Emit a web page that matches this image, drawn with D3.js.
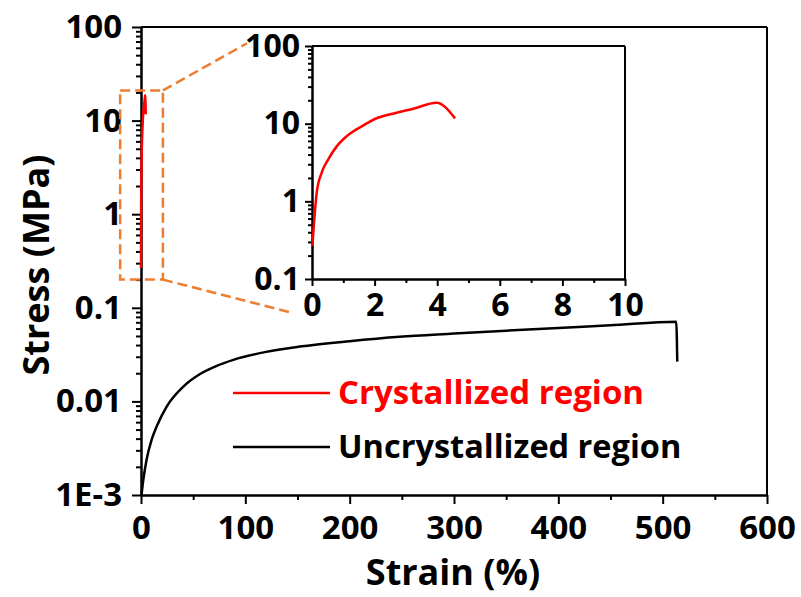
<!DOCTYPE html>
<meta charset="utf-8">
<style>
body { margin: 0; background: #fff; }
text { font-family: "Open Sans", Lato, sans-serif; font-weight: bold; }
.axis path, .axis line { stroke: #000; stroke-width: 2; }
.axis text { fill: #000; }
</style>
<svg width="801" height="597"></svg>
<script src="https://cdn.jsdelivr.net/npm/d3@7/dist/d3.min.js"></script>
<script>

// Uncrystallized region (main plot)
var strainU = [0.5, 2.2, 5.4, 10.2, 15, 24.6, 40.6, 56.6, 72.6, 88.5, 120, 152, 200, 248, 300, 350, 400, 450, 513, 514];
var stressU = [0.001, 0.00145, 0.0024, 0.0039, 0.0054, 0.0088, 0.0144, 0.0196, 0.0240, 0.0278, 0.0338, 0.0385, 0.044, 0.049, 0.053, 0.057, 0.061, 0.065, 0.071, 0.0266];

// Crystallized region
var strainC = [0.01, 0.074, 0.15, 0.31, 0.52, 0.79, 1.11, 1.64, 1.99, 2.7, 3.24, 3.98, 4.57];
var stressC = [0.266, 0.59, 1.29, 2.34, 3.47, 5.1, 6.9, 9.5, 11.4, 13.8, 15.6, 18.6, 11.7];

var xTicks = [0, 100, 200, 300, 400, 500, 600];
var xMinor = [50, 150, 250, 350, 450, 550];
var yTicks = [1e-3, 0.01, 0.1, 1, 10, 100];
var yTickLabels = ["1E-3", "0.01", "0.1", "1", "10", "100"];

var insetXTicks = [0, 2, 4, 6, 8, 10];
var insetXMinor = [1, 3, 5, 7, 9];
var insetYTicks = [0.1, 1, 10, 100];
var insetYTickLabels = ["0.1", "1", "10", "100"];

var seriesNames = ["Crystallized region", "Uncrystallized region"];
var seriesColors = ["#ff0000", "#000000"];

// zoom box (strain, stress) and guide line ends
var zoomBox = [[-20, 0.2], [21, 21]];
var guideEnds = [[101.6, 67], [145.7, 0.088]];

var svg = d3.select("svg");

var x = d3.scaleLinear().domain([0, 600]).range([141, 767]);
var y = d3.scaleLog().domain([1e-3, 100]).range([495, 27]);

var xi = d3.scaleLinear().domain([0, 10]).range([312, 625]);
var yi = d3.scaleLog().domain([0.1, 100]).range([279, 46]);

function minorLog(scale) {
  return scale.ticks().filter(function(d) {
    var l = Math.log10(d);
    return Math.abs(l - Math.round(l)) > 1e-6;
  });
}

// opt: font, major, minor, xPad, yPad
function drawAxes(g, xs, ys, xt, xm, yt, ytl, opt) {
  var r = xs.range(), t = ys.range();
  // frame top and right
  g.append("line").attr("x1", r[0]).attr("x2", r[1]).attr("y1", t[1]).attr("y2", t[1])
    .attr("stroke", "#000").attr("stroke-width", 2);
  g.append("line").attr("x1", r[1]).attr("x2", r[1]).attr("y1", t[0]).attr("y2", t[1])
    .attr("stroke", "#000").attr("stroke-width", 2);

  g.append("g").attr("class", "axis")
    .attr("transform", "translate(0," + t[0] + ")")
    .call(d3.axisBottom(xs).tickValues(xm).tickSize(opt.minor).tickSizeOuter(0).tickFormat(""));
  g.append("g").attr("class", "axis")
    .attr("transform", "translate(0," + t[0] + ")")
    .call(d3.axisBottom(xs).tickValues(xt).tickSize(opt.major).tickSizeOuter(0).tickPadding(opt.xPad))
    .selectAll("text").attr("font-size", opt.font);

  g.append("g").attr("class", "axis")
    .attr("transform", "translate(" + r[0] + ",0)")
    .call(d3.axisLeft(ys).tickValues(minorLog(ys)).tickSize(opt.minor).tickSizeOuter(0).tickFormat(""));
  g.append("g").attr("class", "axis")
    .attr("transform", "translate(" + r[0] + ",0)")
    .call(d3.axisLeft(ys).tickValues(yt).tickSize(opt.major).tickSizeOuter(0).tickPadding(opt.yPad)
      .tickFormat(function(d, i) { return ytl[i]; }))
    .selectAll("text").attr("font-size", opt.font);
}

drawAxes(svg.append("g"), x, y, xTicks, xMinor, yTicks, yTickLabels,
  {font: 33, major: 9, minor: 5, xPad: 12, yPad: 10});

var line = d3.line()
  .x(function(d) { return x(d[0]); })
  .y(function(d) { return y(d[1]); })
  .curve(d3.curveMonotoneX);

svg.append("path")
  .datum(d3.zip(strainU, stressU))
  .attr("fill", "none").attr("stroke", seriesColors[1]).attr("stroke-width", 2.5)
  .attr("d", line);

svg.append("path")
  .datum(d3.zip(strainC, stressC))
  .attr("fill", "none").attr("stroke", seriesColors[0]).attr("stroke-width", 2.5)
  .attr("d", line);

// zoom box and guide lines
var orange = "#ed7d31";
svg.append("rect")
  .attr("x", x(zoomBox[0][0])).attr("y", y(zoomBox[1][1]))
  .attr("width", x(zoomBox[1][0]) - x(zoomBox[0][0]))
  .attr("height", y(zoomBox[0][1]) - y(zoomBox[1][1]))
  .attr("fill", "none").attr("stroke", orange).attr("stroke-width", 2.5)
  .attr("stroke-dasharray", "10,5");
svg.append("line")
  .attr("x1", x(zoomBox[1][0])).attr("y1", y(zoomBox[1][1]))
  .attr("x2", x(guideEnds[0][0])).attr("y2", y(guideEnds[0][1]))
  .attr("stroke", orange).attr("stroke-width", 2.5).attr("stroke-dasharray", "10,5");
svg.append("line")
  .attr("x1", x(zoomBox[1][0])).attr("y1", y(zoomBox[0][1]))
  .attr("x2", x(guideEnds[1][0])).attr("y2", y(guideEnds[1][1]))
  .attr("stroke", orange).attr("stroke-width", 2.5).attr("stroke-dasharray", "10,5");

// inset
var inset = svg.append("g");
inset.append("rect")
  .attr("x", xi.range()[0]).attr("y", yi.range()[1])
  .attr("width", xi.range()[1] - xi.range()[0])
  .attr("height", yi.range()[0] - yi.range()[1])
  .attr("fill", "#fff");
drawAxes(inset, xi, yi, insetXTicks, insetXMinor, insetYTicks, insetYTickLabels,
  {font: 32, major: 7, minor: 4, xPad: 7, yPad: 5});

var lineI = d3.line()
  .x(function(d) { return xi(d[0]); })
  .y(function(d) { return yi(d[1]); })
  .curve(d3.curveMonotoneX);
inset.append("path")
  .datum(d3.zip(strainC, stressC))
  .attr("fill", "none").attr("stroke", seriesColors[0]).attr("stroke-width", 2.5)
  .attr("d", lineI);

// legend
var legend = svg.append("g").attr("transform", "translate(233,393)");
seriesNames.forEach(function(name, i) {
  var row = legend.append("g").attr("transform", "translate(0," + i * 54 + ")");
  row.append("line").attr("x1", 0).attr("x2", 97)
    .attr("stroke", seriesColors[i]).attr("stroke-width", 2.5);
  row.append("text").attr("x", 105).attr("dy", "0.33em")
    .attr("font-size", i === 0 ? 33 : 32.5)
    .attr("font-weight", i === 0 ? "bold" : "600")
    .attr("fill", seriesColors[i])
    .text(name);
});

// axis titles
svg.append("text")
  .attr("x", 453).attr("y", 585)
  .attr("text-anchor", "middle").attr("font-size", 36)
  .text("Strain (%)");
svg.append("text")
  .attr("transform", "translate(49,265) rotate(-90)")
  .attr("text-anchor", "middle").attr("font-size", 36)
  .text("Stress (MPa)");

</script>
